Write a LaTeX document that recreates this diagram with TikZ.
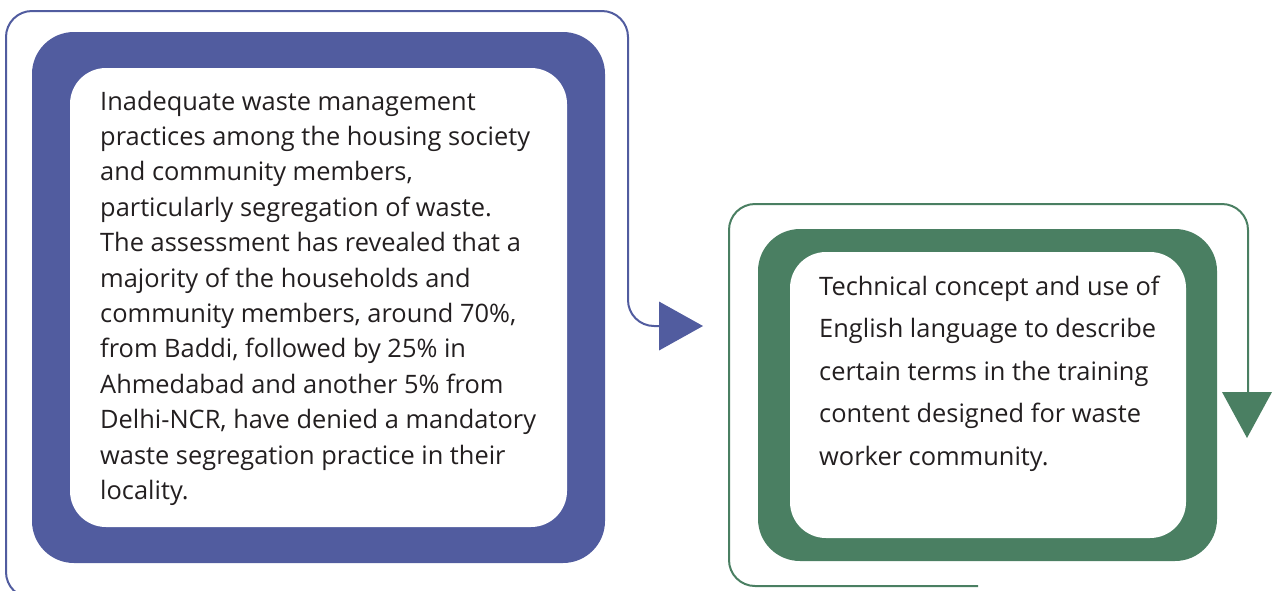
\documentclass[tikz,border=0pt]{standalone}
\usepackage{fontspec}
\setmainfont{Open Sans}
\begin{document}
\definecolor{pblue}{RGB}{81,92,159}
\definecolor{pgreen}{RGB}{74,127,98}
\definecolor{ink}{RGB}{35,31,32}
\begin{tikzpicture}[x=1pt,y=-1pt,
  frame/.style={line width=2pt,rounded corners=26},
  band/.style={rounded corners=42},
  hole/.style={fill=white,rounded corners=36},
  body/.style={anchor=north west,inner sep=0pt,align=left,text=ink,
    font=\fontsize{25.4}{35.4}\selectfont},
  tip/.style={fill=#1,draw=none}]
\useasboundingbox (0,0) rectangle (1272,590);

% left panel
\fill[pblue,band] (32,32) rectangle (605,563);
\fill[hole] (70,68) rectangle (567,527);
\node[body] (issue) at (100,90.5) {Inadequate waste management\\
practices among the housing society\\
and community members,\\
particularly segregation of waste.\\
The assessment has revealed that a\\
majority of the households and\\
community members, around 70\%,\\
from Baddi, followed by 25\% in\\
Ahmedabad and another 5\% from\\
Delhi-NCR, have denied a mandatory\\
waste segregation practice in their\\
locality.};

% right panel
\fill[pgreen,band] (758,229) rectangle (1217,561);
\fill[hole] (790,252) rectangle (1186,538);
\node[body,font=\fontsize{25.4}{42.5}\selectfont] (term) at (819,275.5) {Technical concept and use of\\
English language to describe\\
certain terms in the training\\
content designed for waste\\
worker community.};

% flow outlines and arrowheads
\coordinate (bstart) at (40,598);
\coordinate (bend) at (661,326);
\draw[pblue,frame] (bstart) -| (6,11) -| (628,326) -- (bend);
\node[tip=pblue,inner sep=0pt] (barrow) at (659,326) {};
\fill[pblue] (barrow.center) ++(0,-24.5) -- ++(44,24.5) -- ++(-44,24.5) -- cycle;

\coordinate (gstart) at (978,586);
\coordinate (gend) at (1248,394);
\draw[pgreen,frame] (gstart) -| (729,204) -| (gend);
\node[tip=pgreen,inner sep=0pt] (garrow) at (1247,392) {};
\fill[pgreen] (garrow.center) ++(-25,0) -- ++(50,0) -- ++(-25,46) -- cycle;
\end{tikzpicture}
\end{document}
